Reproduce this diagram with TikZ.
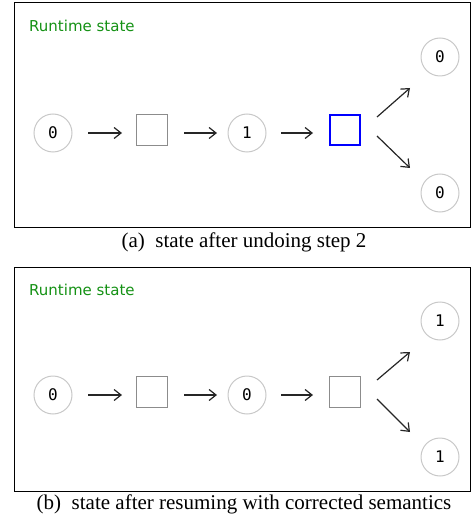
\documentclass[tikz,border=0pt]{standalone}
\usepackage{fontspec}
\setmainfont{Liberation Serif}
\newfontfamily\uifont{DejaVu Sans}
\newfontfamily\numfont{DejaVu Sans Mono}
\usetikzlibrary{arrows.meta}
\definecolor{rtgreen}{RGB}{20,145,20}
\definecolor{circgray}{RGB}{200,200,200}
\definecolor{sqgray}{RGB}{140,140,140}
\tikzset{
  frame/.style={draw=black, line width=0.9pt},
  place/.style={circle, draw=circgray, line width=1pt, minimum size=38pt, inner sep=0pt, font=\numfont\fontsize{16}{16}\selectfont},
  trans/.style={rectangle, draw=sqgray, line width=1.1pt, minimum size=31pt, inner sep=0pt},
  active/.style={rectangle, draw=blue, line width=2.2pt, minimum size=30pt, inner sep=0pt},
  flow/.style={draw=black!85, line width=1.2pt, -{Straight Barb[length=7pt,width=11pt]}},
  title/.style={anchor=west, text=rtgreen, font=\uifont\fontsize{15}{16}\selectfont, inner sep=0pt},
  captext/.style={font=\fontsize{21}{24}\selectfont, inner sep=0pt}
}
\begin{document}
\begin{tikzpicture}[x=1pt,y=-1pt]
\useasboundingbox (0,0) rectangle (471,518);
% panel a
\draw[frame] (14,2) rectangle (470,227);
\node[title] (ta) at (29,26) {Runtime state};
\node[place] (a1) at (53,133) {0};
\node[trans] (a2) at (152,130) {};
\node[place] (a3) at (247,133) {1};
\node[active] (a4) at (345,130) {};
\node[place] (a5) at (440,57) {0};
\node[place] (a6) at (440,193) {0};
\coordinate (a12s) at (88,133); \coordinate (a12e) at (122,133);
\coordinate (a23s) at (184,133); \coordinate (a23e) at (217,133);
\coordinate (a34s) at (281,133); \coordinate (a34e) at (313,133);
\coordinate (a45s) at (377,117); \coordinate (a45e) at (410,88);
\coordinate (a46s) at (377,136); \coordinate (a46e) at (410,168);
\draw[flow] (a12s) -- (a12e);
\draw[flow] (a23s) -- (a23e);
\draw[flow] (a34s) -- (a34e);
\draw[flow] (a45s) -- (a45e);
\draw[flow] (a46s) -- (a46e);
\node[captext] (ca) at (244,242) {(a)\enspace state after undoing step 2};
% panel b
\begin{scope}[yshift=-264pt]
\draw[frame] (14,3) rectangle (470,227);
\node[title] (tb) at (29,26) {Runtime state};
\node[place] (b1) at (53,131) {0};
\node[trans] (b2) at (152,128) {};
\node[place] (b3) at (247,131) {0};
\node[trans] (b4) at (345,128) {};
\node[place] (b5) at (440,57) {1};
\node[place] (b6) at (440,193) {1};
\coordinate (b12s) at (88,131); \coordinate (b12e) at (122,131);
\coordinate (b23s) at (184,131); \coordinate (b23e) at (217,131);
\coordinate (b34s) at (281,131); \coordinate (b34e) at (313,131);
\coordinate (b45s) at (377,116); \coordinate (b45e) at (410,88);
\coordinate (b46s) at (377,135); \coordinate (b46e) at (410,168);
\draw[flow] (b12s) -- (b12e);
\draw[flow] (b23s) -- (b23e);
\draw[flow] (b34s) -- (b34e);
\draw[flow] (b45s) -- (b45e);
\draw[flow] (b46s) -- (b46e);
\node[captext] (cb) at (244,240) {(b)\enspace state after resuming with corrected semantics};
\end{scope}
\end{tikzpicture}
\end{document}
